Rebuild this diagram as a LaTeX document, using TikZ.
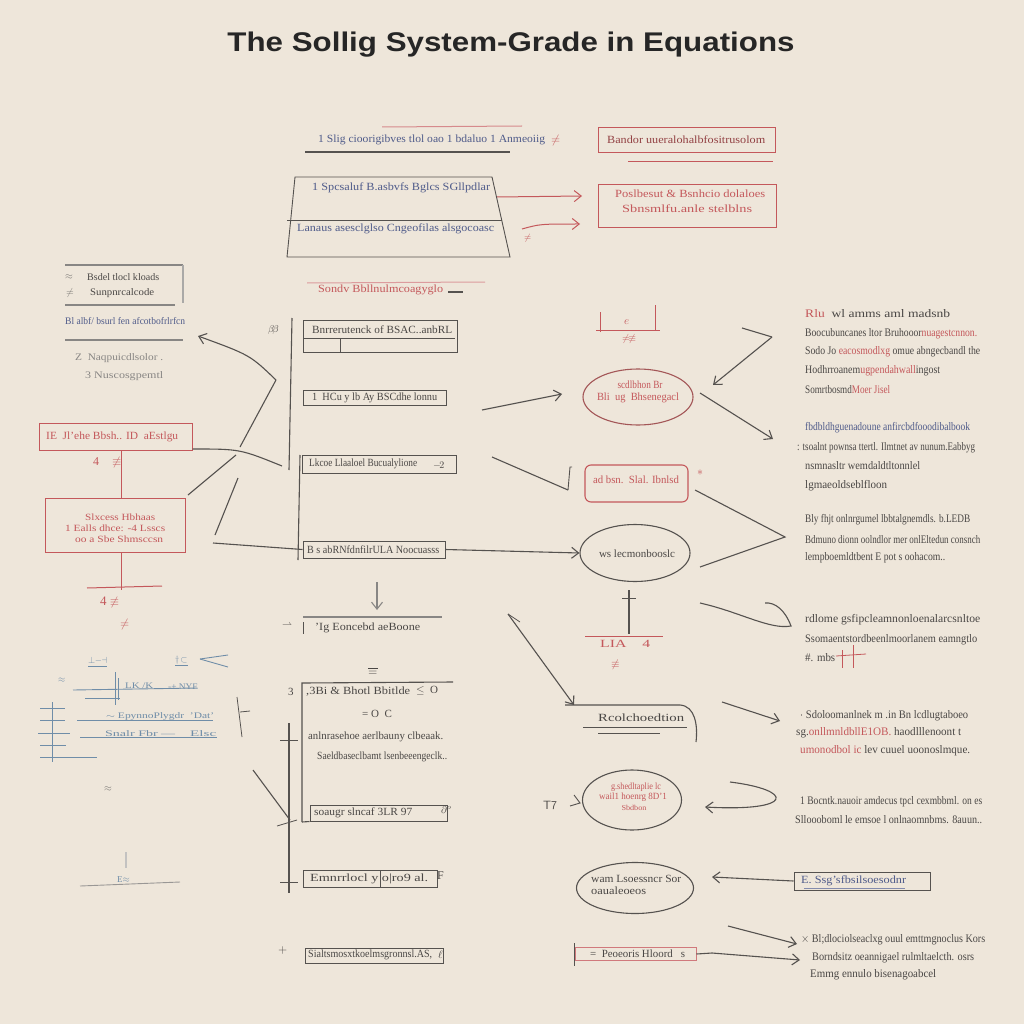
\documentclass[tikz,border=0pt]{standalone}
\usepackage{fontspec}
\usepackage{graphicx}
\setmainfont{Liberation Serif}
\newfontfamily\titlefont{Liberation Sans}
\usetikzlibrary{arrows.meta,shapes.geometric}
\definecolor{bgc}{HTML}{EEE6DA}
\definecolor{ink}{HTML}{55524F}
\definecolor{tink}{HTML}{4A4745}
\definecolor{redc}{HTML}{C4585B}
\definecolor{bluc}{HTML}{4F5B8A}
\definecolor{pblue}{HTML}{6F8DA8}
\newcommand\fw[2]{\resizebox{#1pt}{\height}{#2}}
\begin{document}
\begin{tikzpicture}[x=1pt,y=-1pt,
  tx/.style={font=\fontsize{11}{12}\selectfont, text=tink, inner sep=0pt, anchor=west},
  stx/.style={tx,font=\fontsize{10}{11}\selectfont},
  btx/.style={tx,text=bluc},
  rtx/.style={tx,text=redc},
  ln/.style={draw=ink, line width=1.1pt},
  rln/.style={draw=redc, line width=1pt},
  bln/.style={draw=pblue, line width=0.9pt},
  arr/.style={ln,-{Straight Barb[length=7pt,width=11pt]}},
  rarr/.style={rln,-{Straight Barb[length=7pt,width=11pt]}},
  box/.style={draw=ink, line width=1pt, inner sep=0pt},
  rbox/.style={draw=redc, line width=1pt, inner sep=0pt},
  oval/.style={ellipse, draw=ink, line width=1.1pt, inner sep=0pt},
  roval/.style={ellipse, draw=redc!70!ink, line width=1.1pt, inner sep=0pt}
]
\fill[bgc] (0,0) rectangle (1024,1024);
\useasboundingbox (0,0) rectangle (1024,1024);

% ---------- title ----------
\node[font=\titlefont\bfseries\fontsize{27}{30}\selectfont, text=black!85, inner sep=0pt] (title) at (511,45) {\fw{567}{The Sollig System-Grade in Equations}};

% ---------- top band ----------
\draw[rln, draw=redc!70] (382,127) -- (522,126);
\node[btx] (t1) at (318,140) {\fw{227}{1 Slig cioorigibves tlol oao 1 bdaluo 1 Anmeoiig}};
\node[rtx, font=\fontsize{12}{12}\selectfont] (t1s) at (551,141) {$\neq$};
\draw[ln] (305,152) -- (510,152);
\node[rbox, minimum width=177pt, minimum height=25pt] (b1) at (686.5,140.5) {};
\node[tx, text=redc!75!black] (b1t) at (607,140) {\fw{158}{Bandor uueralohalbfositrusolom}};
\draw[rln] (628,162) -- (773,162);

\draw[ln, line width=0.9pt] (295,177) -- (492,177) -- (510,257) -- (287,257) -- cycle;
\draw[ln, line width=0.9pt] (287,220) -- (502,220);
\node[btx] (tr1) at (312,188) {\fw{178}{1 Spcsaluf B.asbvfs Bglcs SGllpdlar}};
\node[btx] (tr2) at (297,229) {\fw{197}{Lanaus asesclglso Cngeofilas alsgocoasc}};

\node[rbox, minimum width=178pt, minimum height=43pt] (b2) at (687,206.5) {};
\node[rtx] (b2a) at (615,194) {\fw{150}{Poslbesut \& Bsnhcio dolaloes}};
\node[rtx] (b2b) at (622,209) {\fw{130}{Sbnsmlfu.anle stelblns}};

\coordinate (a1s) at (497,197); \coordinate (a1e) at (582,196);
\draw[rarr] (a1s) -- (a1e);
\coordinate (a2s) at (522,229); \coordinate (a2e) at (580,224);
\draw[rarr] (a2s) .. controls (540,224) .. (a2e);
\node[rtx, font=\fontsize{9}{9}\selectfont] (a2x) at (524,238) {$\neq$};

\draw[rln, draw=redc!60] (307,283) -- (485,282);
\node[rtx] (t2) at (318,290) {\fw{125}{Sondv Bbllnulmcoagyglo}};
\draw[ln] (448,292) -- (463,292);

% ---------- left top ----------
\draw[ln, draw=ink!70] (65,265) -- (183,265);
\draw[ln, draw=ink!50] (183,265) -- (183,303);
\node[stx, text=ink!80] (lt0) at (65,277) {$\approx$};
\node[stx] (lt1) at (87,277) {\fw{72}{Bsdel tlocl kloads}};
\node[stx, text=ink!80] (lt0b) at (66,293) {$\neq$};
\node[stx] (lt2) at (90,293) {\fw{64}{Sunpnrcalcode}};
\draw[ln, draw=ink!70] (65,305) -- (175,305);
\node[stx, text=bluc] (lt3) at (65,321) {\fw{120}{Bl albf/ bsurl fen afcotbofrlrfcn}};
\draw[ln, draw=ink!70] (65,340) -- (183,340);
\node[stx, text=ink!70] (lt4) at (75,358) {\fw{88}{Z\ \ Naqpuicdlsolor .}};
\node[stx, text=ink!70] (lt5) at (85,376) {\fw{78}{3 Nuscosgpemtl}};

\node[rbox, minimum width=153pt, minimum height=27pt] (lb1) at (115.5,436.5) {};
\node[rtx] (lb1t) at (46,437) {\fw{132}{IE\ \ Jl'ehe Bbsh.. ID\ \ aEstlgu}};
\node[rtx, font=\fontsize{12}{12}\selectfont] (ls1) at (93,462) {4};
\node[rtx, font=\fontsize{12}{12}\selectfont] (ls2) at (112,462) {$\not\equiv$};
\node[rbox, minimum width=140pt, minimum height=54pt] (lb2) at (115,525) {};
\node[rtx, font=\fontsize{9.5}{10}\selectfont] (lb2a) at (85,517) {\fw{70}{Slxcess Hbhaas}};
\node[rtx, font=\fontsize{9.5}{10}\selectfont] (lb2b) at (65,528) {\fw{100}{1 Ealls dhce: -4 Lsscs}};
\node[rtx, font=\fontsize{9.5}{10}\selectfont] (lb2c) at (75,539) {\fw{88}{oo a Sbe Shmsccsn}};
\draw[rln] (lb1.south -| 121,0) -- (121,498);
\draw[rln] (121,552) -- (121,590);
\draw[rln] (87,588) -- (162,586);
\node[rtx, font=\fontsize{13}{13}\selectfont] (ls3) at (100,602) {4 $\not\equiv$};
\node[rtx, font=\fontsize{12}{12}\selectfont] (ls4) at (120,624) {$\neq$};

% ---------- center column ----------
\draw[ln] (292,318) -- (289,470);
\draw[ln] (300,455) -- (298,560);
\node[stx] (cs0) at (268,330) {$\beta\!\beta$};
\node[box, minimum width=154pt, minimum height=32pt] (c1) at (380,336) {};
\draw[ln, line width=0.8pt] (303,338) -- (455,338);
\draw[ln, line width=0.8pt] (340,338) -- (340,352);
\node[tx] (c1t) at (312,330) {\fw{140}{Bnrrerutenck of BSAC..anbRL}};
\node[box, minimum width=143pt, minimum height=15pt] (c2) at (374.5,397.5) {};
\node[tx] (c2t) at (312,398) {\fw{125}{1\ \ HCu y lb Ay BSCdhe lonnu}};
\node[box, minimum width=154pt, minimum height=18pt] (c3) at (379,464) {};
\node[tx] (c3t) at (309,464) {\fw{108}{Lkcoe Llaaloel Bucualylione}};
\node[stx] (c3s) at (433,466) {$-\!2$};
\node[box, minimum width=142pt, minimum height=17pt] (c4) at (374,549.5) {};
\node[tx] (c4t) at (307,550) {\fw{132}{B s abRNfdnfilrULA Noocuasss}};

% left connectors
\coordinate (j1) at (276,380);
\coordinate (l1) at (198,336);
\draw[arr] (j1) .. controls (250,355) .. (l1);
\draw[ln] (240,447) -- (j1);
\coordinate (l2e) at (282,466);
\draw[ln] (lb1.east |- 0,449) .. controls (240,449) .. (l2e);
\draw[ln] (188,495) -- (236,455);
\draw[ln] (215,535) -- (238,478);
\draw[ln] (213,543) -- (c4.west);

% ---------- ovals middle ----------
\node[roval, minimum width=110pt, minimum height=56pt] (e1) at (638,397) {};
\node[rtx, anchor=center] (e1a) at (640,385) {\fw{45}{scdlbhon Br}};
\node[rtx, anchor=center] (e1b) at (638,398) {\fw{82}{Bli\ \ ug\ \ Bhsenegacl}};
\draw[rounded corners=6pt, draw=redc, line width=1.1pt] (585,465) rectangle (688,502);
\node[rtx, anchor=center] (r1t) at (636,480) {\fw{86}{ad bsn.\ \ Slal. Ibnlsd}};
\node[rtx, font=\fontsize{12}{12}\selectfont] (r1s) at (697,473) {$\ast$};
\node[oval, minimum width=110pt, minimum height=57pt] (e2) at (635,553) {};
\node[tx, anchor=center] (e2t) at (637,554) {\fw{76}{ws lecmonbooslc}};

% red symbol above e1
\draw[rln] (600,332) -- (600,312);
\draw[rln] (596,330) -- (660,330);
\draw[rln] (655,330) -- (655,305);
\node[rtx, font=\fontsize{11}{11}\selectfont] (es1) at (624,322) {$e$};
\node[rtx, font=\fontsize{10}{10}\selectfont] (es2) at (622,339) {$\neq\!\not\equiv$};

\coordinate (m1s) at (482,410); \coordinate (m1e) at (562,394);
\draw[arr] (m1s) -- (m1e);
\coordinate (m2s) at (492,457); \coordinate (m2e) at (568,490);
\draw[ln] (m2s) -- (m2e);
\draw[ln, line width=0.9pt] (568,490) -- (570,467) -- (572,467);
\draw[arr] (c4.east) -- (e2.west);

% ---------- right connectors ----------
\coordinate (p1) at (772,337); \coordinate (p1e) at (713,385);
\draw[ln] (742,328) -- (p1);
\draw[arr] (p1) -- (p1e);
\coordinate (p2s) at (700,393); \coordinate (p2e) at (773,439);
\draw[arr] (p2s) -- (p2e);
\coordinate (p3) at (785,537);
\draw[ln] (695,490) -- (p3) -- (700,567);
\coordinate (p4s) at (700,603); \coordinate (p4e) at (791,626);
\draw[ln] (p4s) .. controls (740,612) and (770,630) .. (p4e) .. controls (785,610) and (775,602) .. (765,603);

% ---------- right text blocks ----------
\begin{scope}[every node/.style={tx, font=\fontsize{11.5}{12}\selectfont}]
\node (rA1) at (805,314) {\fw{145}{\textcolor{redc}{Rlu\ } wl amms aml madsnb}};
\node (rA2) at (805,334) {\fw{172}{Boocubuncanes ltor Bruhooor\textcolor{redc}{nuagestcnnon.}}};
\node (rA3) at (805,352) {\fw{175}{Sodo Jo \textcolor{redc}{eacosmodlxg} omue abngecbandl the}};
\node (rA4) at (805,371) {\fw{135}{Hodhrroanem\textcolor{redc}{ugpendahwall}ingost}};
\node (rA5) at (805,390) {\fw{85}{Somrtbosmd\textcolor{redc}{Moer Jisel}}};
\node[text=bluc] (rB1) at (805,428) {\fw{165}{fbdbldhguenadoune anfircbdfooodibalbook}};
\node (rB2) at (797,448) {\fw{178}{: tsoalnt pownsa ttertl. Ilmtnet av nunum.Eabbyg}};
\node (rB3) at (805,466) {\fw{115}{nsmnasltr wemdaldtltonnlel}};
\node (rB4) at (805,486) {\fw{82}{lgmaeoldseblfloon}};
\node (rC1) at (805,520) {\fw{165}{Bly fhjt onlnrgumel lbbtalgnemdls. b.LEDB}};
\node (rC2) at (805,540) {\fw{175}{Bdmuno dionn oolndlor mer onlEltedun consnch}};
\node (rC3) at (805,558) {\fw{140}{lempboemldtbent E pot s oohacom..}};
\node (rD1) at (805,620) {\fw{175}{rdlome gsfipcleamnonloenalarcsnltoe}};
\node (rD2) at (805,640) {\fw{172}{Ssomaentstordbeenlmoorlanem eamngtlo}};
\node (rD3) at (805,658) {\fw{30}{\#. mbs}};
\node (rE1) at (800,716) {\fw{168}{$\cdot$ Sdoloomanlnek m .in Bn lcdlugtaboeo}};
\node (rE2) at (796,733) {\fw{165}{sg.\textcolor{redc}{onllmnldbllE1OB.} haodlllenoont t}};
\node (rE3) at (800,751) {\fw{170}{\textcolor{redc}{umonodbol ic} lev cuuel uoonoslmque.}};
\node (rF1) at (800,802) {\fw{182}{1 Bocntk.nauoir amdecus tpcl cexmbbml. on es}};
\node (rF2) at (795,820) {\fw{187}{Slloooboml le emsoe l onlnaomnbms. 8auun..}};
\node (rG1) at (801,940) {\fw{184}{$\times$ Bl;dlociolseaclxg ouul emttmgnoclus Kors}};
\node (rG2) at (812,958) {\fw{162}{Borndsitz oeannigael rulmltaelcth. osrs}};
\node (rG3) at (810,975) {\fw{126}{Emmg ennulo bisenagoabcel}};
\end{scope}
\draw[rln, line width=0.8pt] (842,650) -- (842,668);
\draw[rln, line width=0.8pt] (853,645) -- (853,668);
\draw[rln, line width=0.8pt] (836,656) -- (866,654);

% ---------- lower center ----------
\coordinate (u1s) at (377,582); \coordinate (u1e) at (377,610);
\draw[arr, draw=ink!70] (u1s) -- (u1e);
\draw[ln, draw=ink!70] (303,617) -- (442,617);
\node[tx] (q1) at (315,628) {\fw{105}{'Ig Eoncebd aeBoone}};
\node[stx] (q0) at (282,626) {$\rightharpoonup$};
\draw[ln, line width=0.8pt] (303,622) -- (303,634);
\node[tx, font=\fontsize{12}{12}\selectfont] (q2) at (368,671) {$\overline{\equiv}$};

\draw[ln] (302,822) -- (302,683) -- (453,682);
\node[tx] (g3) at (288,692) {3};
\node[tx] (gt1) at (306,692) {\fw{104}{,3Bi \& Bhotl Bbitlde}};
\node[tx] (gt1b) at (416,691) {$\leq$\ \ O};
\node[tx] (gt2) at (362,714) {= O\ \ C};
\node[tx] (gt3) at (308,737) {\fw{135}{anlnrasehoe aerlbauny clbeaak.}};
\node[tx] (gt4) at (317,757) {\fw{130}{Saeldbaseclbamt lsenbeeengeclk..}};
\node[box, minimum width=137pt, minimum height=16pt] (g4) at (378.5,813) {};
\node[tx] (g4t) at (314,813) {\fw{98}{soaugr slncaf 3LR 97}};
\node[stx] (g4s) at (441,810) {$\partial^{o}$};
\draw[ln] (302,822) -- (g4.south west);
\draw[ln] (289,723) -- (289,893);
\draw[ln, line width=0.8pt] (280,740) -- (298,740);
\draw[ln, line width=0.8pt] (280,882) -- (298,882);
\draw[ln] (253,770) -- (290,820);
\draw[ln, line width=0.8pt] (277,826) -- (297,820);
\node[box, minimum width=134pt, minimum height=17pt] (g5) at (370,878.5) {};
\draw[ln, line width=0.8pt] (380,870) -- (380,887);
\node[tx] (g5t) at (310,879) {\fw{118}{Emnrrlocl y o|ro9 al.}};
\node[tx, font=\fontsize{12}{12}\selectfont] (g5s) at (437,876) {F};
\node[tx, font=\fontsize{12}{12}\selectfont] (g6p) at (278,950) {$+$};
\node[box, minimum width=138pt, minimum height=15pt] (g6) at (374,955.5) {};
\node[tx] (g6t) at (308,955) {\fw{124}{Sialtsmosxtkoelmsgronnsl.AS,}};
\node[tx] (g6s) at (438,955) {$\ell$};

% ---------- lower middle-right ----------
\draw[ln] (629,590) -- (629,634);
\draw[ln, line width=0.8pt] (622,598) -- (636,598);
\draw[rln] (585,636) -- (663,636);
\node[rtx] (lia) at (600,644) {\fw{50}{LIA\ \ \ \ 4}};
\node[rtx] (lia2) at (611,665) {$\not\equiv$};

\coordinate (d1s) at (508,614); \coordinate (d1e) at (574,705);
\draw[arr] (d1s) -- (d1e);
\draw[ln, line width=0.8pt] (508,614) -- (520,622);
\draw[ln] (565,705) -- (680,705) .. controls (695,706) and (698,725) .. (696,742);
\node[tx] (rc) at (598,718) {\fw{86}{Rcolchoedtion}};
\draw[ln, line width=0.8pt] (583,727) -- (687,727);
\draw[ln, line width=0.8pt] (598,733) -- (660,733);

\node[oval, minimum width=99pt, minimum height=60pt] (e3) at (632,800) {};
\node[rtx, anchor=center, font=\fontsize{9.5}{10}\selectfont] (e3a) at (636,787) {\fw{50}{g.shedltaplie lc}};
\node[rtx, anchor=center, font=\fontsize{9.5}{10}\selectfont] (e3b) at (633,797) {\fw{68}{wail1 hoenrg 8D'1}};
\node[rtx, anchor=center, font=\fontsize{7.5}{8}\selectfont] (e3c) at (634,808) {\fw{25}{Sbdbon}};
\node[tx, font=\fontsize{12}{12}\selectfont] (e3s) at (543,805) {$\mathsf{T7}$};
\draw[ln, line width=0.9pt] (574,795) -- (580,803) -- (570,806);

\node[oval, minimum width=117pt, minimum height=51pt] (e4) at (635,888) {};
\node[tx] (e4a) at (591,879) {\fw{90}{wam Lsoessncr Sor}};
\node[tx] (e4b) at (591,891) {\fw{55}{oaualeoeos}};

\node[draw=redc!80, line width=1pt, minimum width=121pt, minimum height=13pt, inner sep=0pt] (g7) at (635.5,954) {};
\draw[ln, line width=0.8pt] (574,943) -- (574,966);
\node[tx] (g7t) at (590,954) {\fw{95}{=\ \ Peoeoris Hloord\ \ \ s}};

% right lower connectors
\coordinate (k1s) at (722,702); \coordinate (k1e) at (780,721);
\draw[arr] (k1s) -- (k1e);
\coordinate (k2e) at (705,807);
\draw[arr] (730,782) .. controls (795,790) and (795,812) .. (k2e);
\node[box, minimum width=136pt, minimum height=18pt] (hb) at (862,881) {};
\node[btx] (hbt) at (801,881) {\fw{105}{E.\ Ssg'sfbsilsoesodnr}};
\draw[ln, draw=bluc!70, line width=0.7pt] (804,888) -- (905,888);
\coordinate (k3e) at (712,877);
\draw[arr] (hb.west) -- (k3e);
\coordinate (k4s) at (728,926); \coordinate (k4e) at (797,944);
\draw[arr] (k4s) -- (k4e);
\coordinate (k5s) at (712,953); \coordinate (k5e) at (800,960);
\draw[arr] (k5s) -- (k5e);
\draw[ln] (g7.east) -- (k5s);

% ---------- left lower scribbles ----------
\node[tx, text=pblue, font=\fontsize{9}{9}\selectfont] (s1) at (88,662) {$\underline{\perp\!\!-\!\!\dashv}$};
\node[tx, text=pblue, font=\fontsize{9}{9}\selectfont] (s2) at (175,661) {$\underline{\dagger\!\subset}$};
\draw[bln] (200,659) -- (228,655);
\draw[bln] (200,659) -- (228,667);
\node[tx, text=pblue, font=\fontsize{9}{9}\selectfont] (s3) at (58,680) {$\approx$};
\draw[bln] (73,690) -- (197,688);
\draw[bln] (115,672) -- (115,705);
\draw[bln] (118,678) -- (118,700);
\node[tx, text=pblue, font=\fontsize{8.5}{9}\selectfont] (s4) at (125,686) {\fw{28}{LK /K}};
\node[tx, text=pblue, font=\fontsize{8.5}{9}\selectfont] (s5) at (168,687) {\fw{30}{-+ NYE}};
\draw[bln] (85,698) -- (120,698);
\draw[bln] (77,720) -- (213,720);
\node[tx, text=pblue, font=\fontsize{8.5}{9}\selectfont] (s6) at (106,716) {\fw{108}{$\sim$ EpynnoPlygdr\ \ 'Dat'}};
\draw[bln] (80,737) -- (217,737);
\node[tx, text=pblue, font=\fontsize{8.5}{9}\selectfont] (s7) at (105,734) {\fw{70}{Snalr Fbr  ---}};
\node[tx, text=pblue, font=\fontsize{8.5}{9}\selectfont] (s8) at (190,734) {\fw{26}{Elsc}};
\draw[bln] (52,702) -- (52,762);
\draw[bln] (40,708) -- (65,708);
\draw[bln] (40,720) -- (65,720);
\draw[bln] (38,733) -- (70,733);
\draw[bln] (40,745) -- (66,745);
\draw[bln] (40,757) -- (97,757);
\draw[ln, line width=0.8pt] (237,697) -- (242,737);
\draw[ln, line width=0.8pt] (240,712) -- (250,711);
\node[tx, text=ink!80, font=\fontsize{10}{10}\selectfont] (s9) at (104,789) {$\approx$};
\draw[bln, draw=ink!60] (80,886) -- (180,882);
\draw[ln, draw=ink!35, line width=2pt] (126,852) -- (126,868);
\node[tx, text=pblue, font=\fontsize{9}{9}\selectfont] (s10) at (117,880) {E$\approx$};
\end{tikzpicture}
\end{document}
